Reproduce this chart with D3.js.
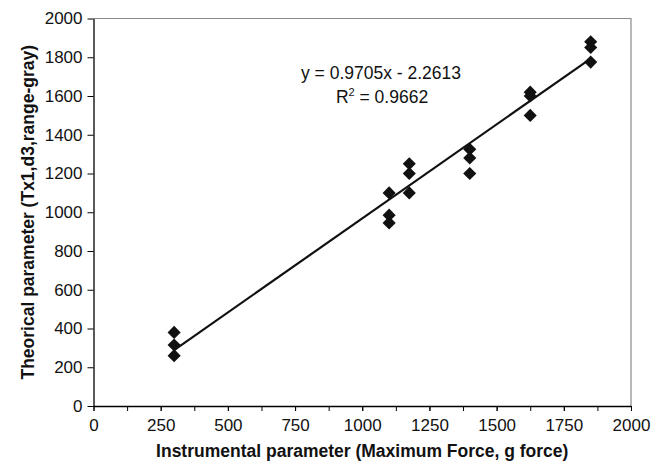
<!DOCTYPE html>
<html>
<head>
<meta charset="utf-8">
<script src="https://cdn.jsdelivr.net/npm/d3@7"></script>
<style>
  body { margin: 0; background: #fff; }
  text { font-family: "Liberation Sans", Arial, sans-serif; fill: #111; }
  .tick text { font-size: 17px; }
  .title { font-size: 17.5px; font-weight: bold; }
  .eq { font-size: 17.5px; }
</style>
</head>
<body>
<script>
// data
var forceX = [300, 300, 300, 1100, 1100, 1100, 1175, 1175, 1175,
              1400, 1400, 1400, 1625, 1625, 1625, 1850, 1850, 1850];
var theoY = [380, 315, 260, 1100, 985, 945, 1250, 1200, 1100,
             1325, 1280, 1200, 1620, 1600, 1500, 1880, 1850, 1775];
var slope = 0.9705, intercept = -2.2613;
var fitRange = [300, 1850];
var xTicks = [0, 250, 500, 750, 1000, 1250, 1500, 1750, 2000];
var yTicks = [0, 200, 400, 600, 800, 1000, 1200, 1400, 1600, 1800, 2000];

// set the dimensions and margins of the graph
var margin = {top: 18.5, right: 31, bottom: 57, left: 93.5},
    width = 662 - margin.left - margin.right,
    height = 463 - margin.top - margin.bottom;

var x = d3.scaleLinear().domain([0, 2000]).range([0, width]);
var y = d3.scaleLinear().domain([0, 2000]).range([height, 0]);

var svg = d3.select("body").append("svg")
    .attr("width", 662)
    .attr("height", 463)
  .append("g")
    .attr("transform", "translate(" + margin.left + "," + margin.top + ")");

// grey frame on top and right
svg.append("path")
    .attr("d", "M0,0H" + width + "V" + height)
    .attr("fill", "none")
    .attr("stroke", "#8a8a8a")
    .attr("stroke-width", 1.2);

// x axis, minor ticks every 125
svg.append("g")
    .attr("transform", "translate(0," + height + ")")
    .call(d3.axisBottom(x).tickValues(d3.range(0, 2001, 125)).tickSize(5).tickFormat(""))
    .call(function(g) { g.select(".domain").remove(); });

svg.append("g")
    .attr("transform", "translate(0," + height + ")")
    .call(d3.axisBottom(x).tickValues(xTicks).tickSize(5).tickSizeOuter(0)
      .tickPadding(8).tickFormat(d3.format("d")))
    .call(function(g) { g.select(".domain").attr("stroke-width", 1.3); });

// y axis
svg.append("g")
    .call(d3.axisLeft(y).tickValues(yTicks).tickSize(6).tickSizeOuter(0)
      .tickPadding(5).tickFormat(d3.format("d")))
    .call(function(g) { g.select(".domain").attr("stroke-width", 1.3); });

svg.selectAll(".tick text").attr("fill", "#111");

// trend line
svg.append("line")
    .attr("x1", x(fitRange[0]))
    .attr("y1", y(slope * fitRange[0] + intercept))
    .attr("x2", x(fitRange[1]))
    .attr("y2", y(slope * fitRange[1] + intercept))
    .attr("stroke", "#111")
    .attr("stroke-width", 2.2);

// diamond markers
var diamond = d3.symbol().type(d3.symbolSquare).size(86);
svg.selectAll(".pt")
    .data(forceX)
  .enter().append("path")
    .attr("class", "pt")
    .attr("d", diamond)
    .attr("fill", "#111")
    .attr("transform", function(d, i) {
      return "translate(" + x(d) + "," + y(theoY[i]) + ") rotate(45)";
    });

// equation
var eq = svg.append("g").attr("class", "eq");
eq.append("text")
    .attr("x", 381 - margin.left)
    .attr("y", 79 - margin.top)
    .attr("text-anchor", "middle")
    .text("y = 0.9705x - 2.2613");
var r2 = eq.append("text")
    .attr("x", 382 - margin.left)
    .attr("y", 103 - margin.top)
    .attr("text-anchor", "middle");
r2.append("tspan").text("R");
r2.append("tspan").attr("dy", -7).attr("font-size", "11px").text("2");
r2.append("tspan").attr("dy", 7).text(" = 0.9662");

// axis titles
svg.append("text")
    .attr("class", "title")
    .attr("x", width / 2)
    .attr("y", height + 51)
    .attr("text-anchor", "middle")
    .text("Instrumental parameter (Maximum Force, g force)");

svg.append("text")
    .attr("class", "title")
    .attr("transform", "rotate(-90)")
    .attr("x", -height / 2)
    .attr("y", 34 - margin.left)
    .attr("text-anchor", "middle")
    .text("Theorical parameter (Tx1,d3,range-gray)");
</script>
</body>
</html>
